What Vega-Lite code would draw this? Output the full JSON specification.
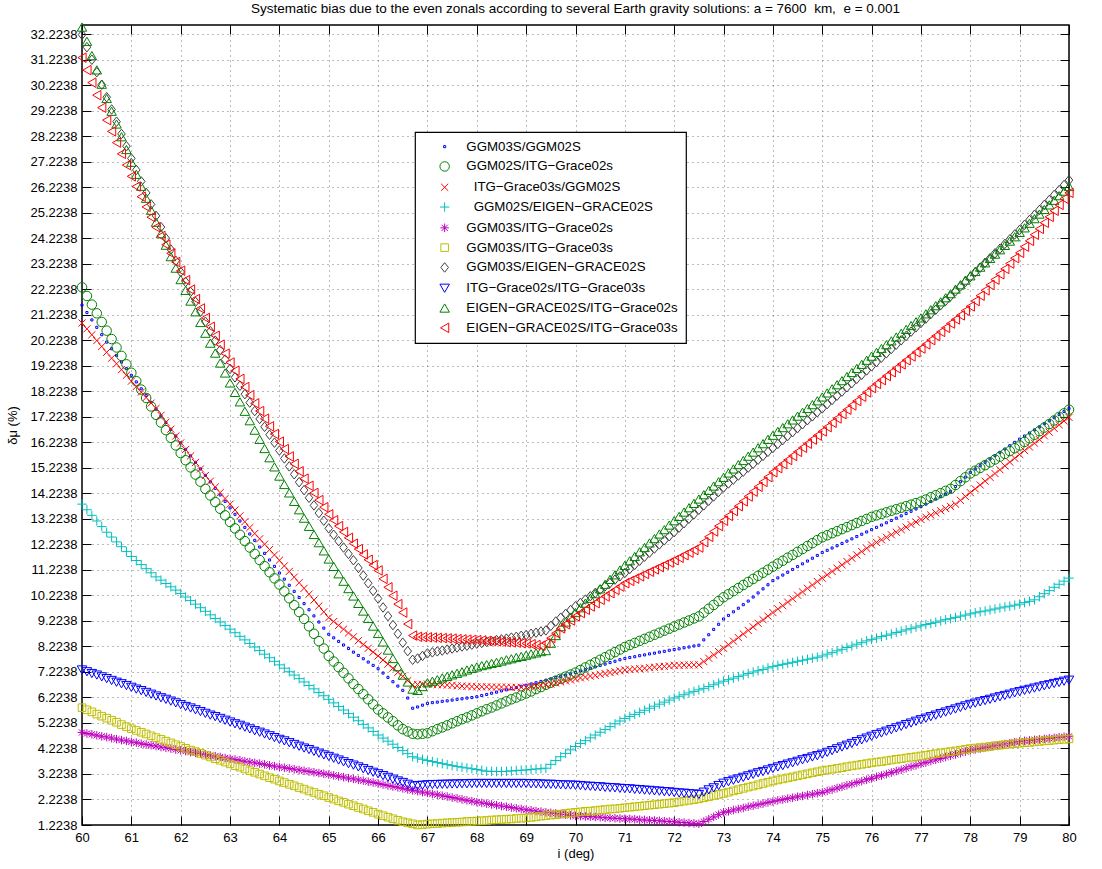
{
"$schema":"https://vega.github.io/schema/vega-lite/v6.json",
"width":987,"height":800,
"autosize":{"type":"none"},
"padding":{"left":82,"top":25,"right":33,"bottom":44},
"background":"white",
"title":{"text":"Systematic bias due to the even zonals according to several Earth gravity solutions: a = 7600\u00a0 km,\u00a0 e = 0.001","font":"Liberation Sans","fontSize":13.5,"fontWeight":"normal","color":"black","offset":5},
"config":{"font":"Liberation Sans","view":{"stroke":"#000000","strokeWidth":1.5},"legend":{"strokeWidth":1.2}},
"layer":[
{"data":{"values":[
{"x":60,"a":21.60,"b":22.30,"c":20.90,"d":13.80,"e":4.85,"f":5.82,"g":32.20,"h":7.30,"p":32.50,"q":31.30},
{"x":60.1,"a":21.31,"b":21.96,"c":20.67,"d":13.58,"e":4.81,"f":5.74,"g":31.71,"h":7.23,"p":31.94,"q":30.81},
{"x":60.2,"a":21.02,"b":21.62,"c":20.44,"d":13.36,"e":4.78,"f":5.66,"g":31.22,"h":7.16,"p":31.38,"q":30.32},
{"x":60.3,"a":20.73,"b":21.28,"c":20.21,"d":13.14,"e":4.74,"f":5.57,"g":30.73,"h":7.10,"p":30.82,"q":29.83},
{"x":60.4,"a":20.44,"b":20.94,"c":19.98,"d":12.92,"e":4.70,"f":5.49,"g":30.24,"h":7.03,"p":30.26,"q":29.34},
{"x":60.5,"a":20.15,"b":20.60,"c":19.75,"d":12.70,"e":4.67,"f":5.41,"g":29.75,"h":6.96,"p":29.70,"q":28.85},
{"x":60.6,"a":19.89,"b":20.27,"c":19.52,"d":12.51,"e":4.63,"f":5.33,"g":29.27,"h":6.89,"p":29.20,"q":28.41},
{"x":60.7,"a":19.63,"b":19.94,"c":19.30,"d":12.32,"e":4.59,"f":5.25,"g":28.79,"h":6.82,"p":28.70,"q":27.97},
{"x":60.8,"a":19.37,"b":19.61,"c":19.07,"d":12.13,"e":4.55,"f":5.16,"g":28.31,"h":6.76,"p":28.20,"q":27.53},
{"x":60.9,"a":19.11,"b":19.28,"c":18.85,"d":11.94,"e":4.52,"f":5.08,"g":27.83,"h":6.69,"p":27.70,"q":27.09},
{"x":61,"a":18.85,"b":18.95,"c":18.62,"d":11.75,"e":4.48,"f":5.00,"g":27.35,"h":6.62,"p":27.20,"q":26.65},
{"x":61.1,"a":18.59,"b":18.62,"c":18.41,"d":11.59,"e":4.45,"f":4.93,"g":26.90,"h":6.55,"p":26.73,"q":26.25},
{"x":61.2,"a":18.32,"b":18.29,"c":18.19,"d":11.43,"e":4.41,"f":4.86,"g":26.45,"h":6.49,"p":26.26,"q":25.85},
{"x":61.3,"a":18.06,"b":17.96,"c":17.98,"d":11.27,"e":4.38,"f":4.79,"g":26.00,"h":6.42,"p":25.79,"q":25.45},
{"x":61.4,"a":17.79,"b":17.63,"c":17.76,"d":11.11,"e":4.35,"f":4.72,"g":25.55,"h":6.35,"p":25.32,"q":25.05},
{"x":61.5,"a":17.53,"b":17.30,"c":17.55,"d":10.95,"e":4.32,"f":4.65,"g":25.10,"h":6.28,"p":24.85,"q":24.65},
{"x":61.6,"a":17.26,"b":17.00,"c":17.28,"d":10.82,"e":4.28,"f":4.58,"g":24.66,"h":6.21,"p":24.40,"q":24.31},
{"x":61.7,"a":17.00,"b":16.70,"c":17.01,"d":10.69,"e":4.25,"f":4.51,"g":24.22,"h":6.15,"p":23.95,"q":23.97},
{"x":61.8,"a":16.73,"b":16.40,"c":16.74,"d":10.56,"e":4.22,"f":4.44,"g":23.78,"h":6.08,"p":23.50,"q":23.63},
{"x":61.9,"a":16.47,"b":16.10,"c":16.47,"d":10.43,"e":4.18,"f":4.37,"g":23.34,"h":6.01,"p":23.05,"q":23.29},
{"x":62,"a":16.20,"b":15.80,"c":16.20,"d":10.30,"e":4.15,"f":4.30,"g":22.90,"h":5.94,"p":22.60,"q":22.95},
{"x":62.1,"a":15.95,"b":15.52,"c":15.94,"d":10.16,"e":4.12,"f":4.23,"g":22.51,"h":5.87,"p":22.18,"q":22.58},
{"x":62.2,"a":15.69,"b":15.24,"c":15.69,"d":10.02,"e":4.08,"f":4.16,"g":22.12,"h":5.81,"p":21.76,"q":22.21},
{"x":62.3,"a":15.44,"b":14.96,"c":15.43,"d":9.88,"e":4.05,"f":4.10,"g":21.73,"h":5.74,"p":21.34,"q":21.84},
{"x":62.4,"a":15.18,"b":14.68,"c":15.18,"d":9.74,"e":4.02,"f":4.03,"g":21.34,"h":5.67,"p":20.92,"q":21.47},
{"x":62.5,"a":14.93,"b":14.40,"c":14.92,"d":9.60,"e":3.99,"f":3.96,"g":20.95,"h":5.60,"p":20.50,"q":21.10},
{"x":62.6,"a":14.67,"b":14.14,"c":14.70,"d":9.46,"e":3.95,"f":3.89,"g":20.58,"h":5.53,"p":20.11,"q":20.75},
{"x":62.7,"a":14.42,"b":13.88,"c":14.47,"d":9.32,"e":3.92,"f":3.82,"g":20.21,"h":5.47,"p":19.72,"q":20.40},
{"x":62.8,"a":14.16,"b":13.62,"c":14.25,"d":9.18,"e":3.89,"f":3.76,"g":19.84,"h":5.40,"p":19.33,"q":20.05},
{"x":62.9,"a":13.91,"b":13.36,"c":14.02,"d":9.04,"e":3.85,"f":3.69,"g":19.47,"h":5.33,"p":18.94,"q":19.70},
{"x":63,"a":13.65,"b":13.10,"c":13.80,"d":8.90,"e":3.82,"f":3.62,"g":19.10,"h":5.26,"p":18.55,"q":19.35},
{"x":63.1,"a":13.40,"b":12.85,"c":13.57,"d":8.76,"e":3.79,"f":3.55,"g":18.77,"h":5.19,"p":18.18,"q":19.03},
{"x":63.2,"a":13.14,"b":12.60,"c":13.34,"d":8.62,"e":3.76,"f":3.49,"g":18.44,"h":5.13,"p":17.81,"q":18.71},
{"x":63.3,"a":12.89,"b":12.35,"c":13.11,"d":8.48,"e":3.72,"f":3.42,"g":18.11,"h":5.06,"p":17.44,"q":18.39},
{"x":63.4,"a":12.63,"b":12.10,"c":12.88,"d":8.34,"e":3.69,"f":3.35,"g":17.78,"h":4.99,"p":17.07,"q":18.07},
{"x":63.5,"a":12.38,"b":11.85,"c":12.65,"d":8.20,"e":3.66,"f":3.29,"g":17.45,"h":4.92,"p":16.70,"q":17.75},
{"x":63.6,"a":12.12,"b":11.61,"c":12.44,"d":8.06,"e":3.63,"f":3.22,"g":17.14,"h":4.86,"p":16.34,"q":17.45},
{"x":63.7,"a":11.87,"b":11.37,"c":12.23,"d":7.92,"e":3.60,"f":3.15,"g":16.83,"h":4.79,"p":15.98,"q":17.15},
{"x":63.8,"a":11.61,"b":11.13,"c":12.02,"d":7.78,"e":3.56,"f":3.08,"g":16.52,"h":4.72,"p":15.62,"q":16.85},
{"x":63.9,"a":11.36,"b":10.89,"c":11.81,"d":7.64,"e":3.53,"f":3.02,"g":16.21,"h":4.65,"p":15.26,"q":16.55},
{"x":64,"a":11.10,"b":10.65,"c":11.60,"d":7.50,"e":3.50,"f":2.95,"g":15.90,"h":4.58,"p":14.90,"q":16.25},
{"x":64.1,"a":10.86,"b":10.38,"c":11.38,"d":7.37,"e":3.47,"f":2.89,"g":15.59,"h":4.52,"p":14.57,"q":15.96},
{"x":64.2,"a":10.62,"b":10.11,"c":11.16,"d":7.23,"e":3.44,"f":2.82,"g":15.28,"h":4.45,"p":14.24,"q":15.67},
{"x":64.3,"a":10.38,"b":9.84,"c":10.94,"d":7.10,"e":3.41,"f":2.76,"g":14.97,"h":4.38,"p":13.91,"q":15.38},
{"x":64.4,"a":10.14,"b":9.57,"c":10.72,"d":6.96,"e":3.38,"f":2.69,"g":14.66,"h":4.31,"p":13.58,"q":15.09},
{"x":64.5,"a":9.90,"b":9.30,"c":10.50,"d":6.83,"e":3.35,"f":2.63,"g":14.35,"h":4.24,"p":13.25,"q":14.80},
{"x":64.6,"a":9.66,"b":9.01,"c":10.27,"d":6.69,"e":3.32,"f":2.56,"g":14.05,"h":4.18,"p":12.93,"q":14.52},
{"x":64.7,"a":9.42,"b":8.72,"c":10.04,"d":6.56,"e":3.29,"f":2.50,"g":13.75,"h":4.11,"p":12.61,"q":14.24},
{"x":64.8,"a":9.18,"b":8.43,"c":9.81,"d":6.42,"e":3.26,"f":2.43,"g":13.45,"h":4.04,"p":12.29,"q":13.96},
{"x":64.9,"a":8.94,"b":8.14,"c":9.58,"d":6.29,"e":3.23,"f":2.37,"g":13.15,"h":3.97,"p":11.97,"q":13.68},
{"x":65,"a":8.70,"b":7.85,"c":9.35,"d":6.15,"e":3.20,"f":2.30,"g":12.85,"h":3.91,"p":11.65,"q":13.40},
{"x":65.1,"a":8.56,"b":7.63,"c":9.20,"d":6.01,"e":3.17,"f":2.24,"g":12.60,"h":3.84,"p":11.36,"q":13.17},
{"x":65.2,"a":8.42,"b":7.41,"c":9.05,"d":5.87,"e":3.13,"f":2.17,"g":12.35,"h":3.77,"p":11.07,"q":12.94},
{"x":65.3,"a":8.28,"b":7.19,"c":8.90,"d":5.73,"e":3.10,"f":2.11,"g":12.10,"h":3.70,"p":10.78,"q":12.71},
{"x":65.4,"a":8.14,"b":6.97,"c":8.75,"d":5.59,"e":3.06,"f":2.04,"g":11.85,"h":3.63,"p":10.49,"q":12.48},
{"x":65.5,"a":8.00,"b":6.75,"c":8.60,"d":5.45,"e":3.03,"f":1.98,"g":11.60,"h":3.57,"p":10.20,"q":12.25},
{"x":65.6,"a":7.87,"b":6.55,"c":8.45,"d":5.31,"e":2.99,"f":1.91,"g":11.30,"h":3.50,"p":9.91,"q":12.04},
{"x":65.7,"a":7.74,"b":6.35,"c":8.30,"d":5.17,"e":2.96,"f":1.85,"g":11.00,"h":3.43,"p":9.61,"q":11.83},
{"x":65.8,"a":7.61,"b":6.15,"c":8.15,"d":5.03,"e":2.92,"f":1.78,"g":10.70,"h":3.36,"p":9.32,"q":11.62},
{"x":65.9,"a":7.48,"b":5.95,"c":8.00,"d":4.89,"e":2.89,"f":1.72,"g":10.40,"h":3.29,"p":9.02,"q":11.41},
{"x":66,"a":7.35,"b":5.75,"c":7.85,"d":4.75,"e":2.85,"f":1.65,"g":10.10,"h":3.23,"p":8.73,"q":11.20},
{"x":66.1,"a":7.18,"b":5.60,"c":7.69,"d":4.63,"e":2.81,"f":1.59,"g":9.75,"h":3.16,"p":8.40,"q":10.87},
{"x":66.2,"a":7.01,"b":5.44,"c":7.53,"d":4.51,"e":2.77,"f":1.53,"g":9.41,"h":3.09,"p":8.08,"q":10.54},
{"x":66.3,"a":6.84,"b":5.29,"c":7.37,"d":4.39,"e":2.73,"f":1.47,"g":9.06,"h":3.02,"p":7.75,"q":10.21},
{"x":66.4,"a":6.67,"b":5.13,"c":7.21,"d":4.26,"e":2.70,"f":1.41,"g":8.72,"h":2.95,"p":7.43,"q":9.88},
{"x":66.5,"a":6.50,"b":4.98,"c":7.05,"d":4.14,"e":2.66,"f":1.35,"g":8.37,"h":2.89,"p":7.10,"q":9.55},
{"x":66.6,"a":6.20,"b":4.89,"c":6.88,"d":4.02,"e":2.62,"f":1.31,"g":8.04,"h":2.82,"p":6.83,"q":9.10},
{"x":66.7,"a":5.80,"b":4.80,"c":6.72,"d":3.90,"e":2.58,"f":1.27,"g":7.70,"h":2.75,"p":6.55,"q":8.65},
{"x":66.8,"a":5.85,"b":4.78,"c":6.73,"d":3.85,"e":2.55,"f":1.2238,"g":7.75,"h":2.77,"p":6.50,"q":8.60},
{"x":66.9,"a":5.92,"b":4.80,"c":6.74,"d":3.80,"e":2.51,"f":1.24,"g":7.85,"h":2.78,"p":6.65,"q":8.59},
{"x":67,"a":5.99,"b":4.82,"c":6.75,"d":3.75,"e":2.48,"f":1.26,"g":7.95,"h":2.80,"p":6.80,"q":8.58},
{"x":67.1,"a":6.02,"b":4.90,"c":6.74,"d":3.71,"e":2.44,"f":1.27,"g":7.99,"h":2.81,"p":6.86,"q":8.57},
{"x":67.2,"a":6.04,"b":4.98,"c":6.73,"d":3.67,"e":2.41,"f":1.28,"g":8.03,"h":2.81,"p":6.92,"q":8.56},
{"x":67.3,"a":6.07,"b":5.05,"c":6.72,"d":3.63,"e":2.37,"f":1.30,"g":8.06,"h":2.82,"p":6.99,"q":8.55},
{"x":67.4,"a":6.09,"b":5.13,"c":6.71,"d":3.59,"e":2.34,"f":1.31,"g":8.10,"h":2.82,"p":7.05,"q":8.54},
{"x":67.5,"a":6.12,"b":5.21,"c":6.70,"d":3.55,"e":2.30,"f":1.32,"g":8.14,"h":2.83,"p":7.11,"q":8.53},
{"x":67.6,"a":6.15,"b":5.29,"c":6.68,"d":3.52,"e":2.27,"f":1.33,"g":8.18,"h":2.83,"p":7.17,"q":8.51},
{"x":67.7,"a":6.17,"b":5.37,"c":6.67,"d":3.49,"e":2.23,"f":1.34,"g":8.22,"h":2.84,"p":7.23,"q":8.50},
{"x":67.8,"a":6.20,"b":5.44,"c":6.66,"d":3.46,"e":2.19,"f":1.36,"g":8.25,"h":2.84,"p":7.30,"q":8.49},
{"x":67.9,"a":6.22,"b":5.52,"c":6.65,"d":3.43,"e":2.16,"f":1.37,"g":8.29,"h":2.85,"p":7.36,"q":8.48},
{"x":68,"a":6.25,"b":5.60,"c":6.64,"d":3.40,"e":2.12,"f":1.38,"g":8.33,"h":2.85,"p":7.42,"q":8.47},
{"x":68.1,"a":6.30,"b":5.68,"c":6.64,"d":3.37,"e":2.09,"f":1.39,"g":8.36,"h":2.85,"p":7.47,"q":8.46},
{"x":68.2,"a":6.34,"b":5.76,"c":6.64,"d":3.33,"e":2.06,"f":1.40,"g":8.40,"h":2.85,"p":7.51,"q":8.44},
{"x":68.3,"a":6.39,"b":5.83,"c":6.63,"d":3.33,"e":2.03,"f":1.42,"g":8.43,"h":2.85,"p":7.56,"q":8.43},
{"x":68.4,"a":6.43,"b":5.91,"c":6.63,"d":3.32,"e":2.00,"f":1.43,"g":8.47,"h":2.85,"p":7.60,"q":8.42},
{"x":68.5,"a":6.48,"b":5.99,"c":6.63,"d":3.32,"e":1.97,"f":1.44,"g":8.50,"h":2.85,"p":7.65,"q":8.41},
{"x":68.6,"a":6.52,"b":6.07,"c":6.63,"d":3.33,"e":1.94,"f":1.45,"g":8.53,"h":2.85,"p":7.70,"q":8.39},
{"x":68.7,"a":6.57,"b":6.15,"c":6.62,"d":3.34,"e":1.91,"f":1.46,"g":8.57,"h":2.85,"p":7.74,"q":8.38},
{"x":68.8,"a":6.61,"b":6.22,"c":6.62,"d":3.36,"e":1.88,"f":1.48,"g":8.60,"h":2.85,"p":7.79,"q":8.37},
{"x":68.9,"a":6.66,"b":6.30,"c":6.62,"d":3.37,"e":1.85,"f":1.49,"g":8.64,"h":2.85,"p":7.83,"q":8.35},
{"x":69,"a":6.70,"b":6.38,"c":6.62,"d":3.38,"e":1.82,"f":1.50,"g":8.67,"h":2.85,"p":7.88,"q":8.34},
{"x":69.1,"a":6.75,"b":6.46,"c":6.65,"d":3.40,"e":1.80,"f":1.52,"g":8.72,"h":2.84,"p":7.93,"q":8.31},
{"x":69.2,"a":6.80,"b":6.55,"c":6.67,"d":3.42,"e":1.77,"f":1.54,"g":8.76,"h":2.84,"p":7.97,"q":8.28},
{"x":69.3,"a":6.85,"b":6.63,"c":6.70,"d":3.43,"e":1.75,"f":1.57,"g":8.81,"h":2.83,"p":8.02,"q":8.25},
{"x":69.4,"a":6.90,"b":6.72,"c":6.72,"d":3.45,"e":1.72,"f":1.59,"g":8.85,"h":2.82,"p":8.06,"q":8.35},
{"x":69.5,"a":6.95,"b":6.80,"c":6.75,"d":3.60,"e":1.70,"f":1.61,"g":9.03,"h":2.82,"p":8.35,"q":8.55},
{"x":69.6,"a":7.00,"b":6.88,"c":6.79,"d":3.75,"e":1.68,"f":1.63,"g":9.20,"h":2.81,"p":8.65,"q":8.74},
{"x":69.7,"a":7.05,"b":6.96,"c":6.83,"d":3.90,"e":1.65,"f":1.65,"g":9.35,"h":2.80,"p":9.00,"q":8.93},
{"x":69.8,"a":7.10,"b":7.04,"c":6.87,"d":4.03,"e":1.63,"f":1.68,"g":9.50,"h":2.79,"p":9.18,"q":9.09},
{"x":69.9,"a":7.15,"b":7.12,"c":6.91,"d":4.17,"e":1.60,"f":1.70,"g":9.65,"h":2.79,"p":9.37,"q":9.24},
{"x":70,"a":7.20,"b":7.20,"c":6.95,"d":4.30,"e":1.58,"f":1.72,"g":9.80,"h":2.78,"p":9.55,"q":9.40},
{"x":70.1,"a":7.26,"b":7.30,"c":6.99,"d":4.42,"e":1.57,"f":1.74,"g":9.93,"h":2.77,"p":9.74,"q":9.53},
{"x":70.2,"a":7.31,"b":7.40,"c":7.02,"d":4.53,"e":1.56,"f":1.76,"g":10.06,"h":2.75,"p":9.92,"q":9.66},
{"x":70.3,"a":7.37,"b":7.50,"c":7.06,"d":4.64,"e":1.55,"f":1.77,"g":10.19,"h":2.74,"p":10.11,"q":9.79},
{"x":70.4,"a":7.42,"b":7.60,"c":7.09,"d":4.75,"e":1.54,"f":1.79,"g":10.32,"h":2.73,"p":10.29,"q":9.92},
{"x":70.5,"a":7.48,"b":7.70,"c":7.13,"d":4.86,"e":1.53,"f":1.81,"g":10.45,"h":2.72,"p":10.48,"q":10.05},
{"x":70.6,"a":7.53,"b":7.80,"c":7.16,"d":4.97,"e":1.51,"f":1.83,"g":10.58,"h":2.70,"p":10.66,"q":10.18},
{"x":70.7,"a":7.59,"b":7.90,"c":7.20,"d":5.08,"e":1.50,"f":1.85,"g":10.71,"h":2.69,"p":10.85,"q":10.31},
{"x":70.8,"a":7.64,"b":8.00,"c":7.23,"d":5.19,"e":1.49,"f":1.86,"g":10.84,"h":2.68,"p":11.03,"q":10.44},
{"x":70.9,"a":7.70,"b":8.10,"c":7.27,"d":5.30,"e":1.48,"f":1.88,"g":10.97,"h":2.66,"p":11.22,"q":10.57},
{"x":71,"a":7.75,"b":8.20,"c":7.30,"d":5.40,"e":1.47,"f":1.90,"g":11.10,"h":2.65,"p":11.40,"q":10.70},
{"x":71.1,"a":7.79,"b":8.28,"c":7.32,"d":5.48,"e":1.46,"f":1.92,"g":11.26,"h":2.64,"p":11.58,"q":10.79},
{"x":71.2,"a":7.82,"b":8.36,"c":7.34,"d":5.56,"e":1.45,"f":1.94,"g":11.42,"h":2.62,"p":11.75,"q":10.88},
{"x":71.3,"a":7.86,"b":8.44,"c":7.35,"d":5.64,"e":1.43,"f":1.96,"g":11.58,"h":2.61,"p":11.93,"q":10.97},
{"x":71.4,"a":7.89,"b":8.52,"c":7.37,"d":5.72,"e":1.42,"f":1.98,"g":11.74,"h":2.59,"p":12.10,"q":11.06},
{"x":71.5,"a":7.93,"b":8.60,"c":7.39,"d":5.80,"e":1.41,"f":2.00,"g":11.90,"h":2.58,"p":12.28,"q":11.15},
{"x":71.6,"a":7.96,"b":8.68,"c":7.41,"d":5.88,"e":1.40,"f":2.02,"g":12.06,"h":2.56,"p":12.45,"q":11.24},
{"x":71.7,"a":8.00,"b":8.76,"c":7.43,"d":5.96,"e":1.39,"f":2.04,"g":12.22,"h":2.55,"p":12.63,"q":11.33},
{"x":71.8,"a":8.03,"b":8.84,"c":7.44,"d":6.04,"e":1.37,"f":2.06,"g":12.38,"h":2.53,"p":12.80,"q":11.42},
{"x":71.9,"a":8.07,"b":8.92,"c":7.46,"d":6.12,"e":1.36,"f":2.08,"g":12.54,"h":2.52,"p":12.98,"q":11.51},
{"x":72,"a":8.10,"b":9.00,"c":7.48,"d":6.20,"e":1.35,"f":2.10,"g":12.70,"h":2.50,"p":13.15,"q":11.60},
{"x":72.1,"a":8.13,"b":9.08,"c":7.48,"d":6.27,"e":1.33,"f":2.13,"g":12.88,"h":2.48,"p":13.32,"q":11.70},
{"x":72.2,"a":8.17,"b":9.16,"c":7.49,"d":6.33,"e":1.32,"f":2.16,"g":13.05,"h":2.47,"p":13.49,"q":11.80},
{"x":72.3,"a":8.20,"b":9.24,"c":7.49,"d":6.40,"e":1.30,"f":2.19,"g":13.23,"h":2.45,"p":13.66,"q":11.90},
{"x":72.4,"a":8.24,"b":9.32,"c":7.50,"d":6.46,"e":1.29,"f":2.22,"g":13.40,"h":2.44,"p":13.83,"q":12.00},
{"x":72.5,"a":8.27,"b":9.40,"c":7.50,"d":6.52,"e":1.27,"f":2.25,"g":13.58,"h":2.42,"p":14.00,"q":12.10},
{"x":72.6,"a":8.48,"b":9.55,"c":7.63,"d":6.58,"e":1.36,"f":2.29,"g":13.75,"h":2.51,"p":14.17,"q":12.31},
{"x":72.7,"a":8.68,"b":9.70,"c":7.76,"d":6.65,"e":1.45,"f":2.33,"g":13.93,"h":2.60,"p":14.34,"q":12.52},
{"x":72.8,"a":8.89,"b":9.85,"c":7.89,"d":6.72,"e":1.54,"f":2.38,"g":14.10,"h":2.68,"p":14.51,"q":12.73},
{"x":72.9,"a":9.09,"b":10.00,"c":8.02,"d":6.79,"e":1.63,"f":2.42,"g":14.28,"h":2.77,"p":14.68,"q":12.94},
{"x":73,"a":9.30,"b":10.15,"c":8.15,"d":6.86,"e":1.72,"f":2.46,"g":14.45,"h":2.86,"p":14.85,"q":13.15},
{"x":73.1,"a":9.44,"b":10.27,"c":8.29,"d":6.92,"e":1.76,"f":2.51,"g":14.61,"h":2.92,"p":15.02,"q":13.34},
{"x":73.2,"a":9.58,"b":10.39,"c":8.43,"d":6.98,"e":1.81,"f":2.56,"g":14.76,"h":2.98,"p":15.18,"q":13.53},
{"x":73.3,"a":9.72,"b":10.51,"c":8.57,"d":7.04,"e":1.85,"f":2.61,"g":14.92,"h":3.03,"p":15.35,"q":13.72},
{"x":73.4,"a":9.86,"b":10.63,"c":8.71,"d":7.10,"e":1.89,"f":2.66,"g":15.07,"h":3.09,"p":15.51,"q":13.91},
{"x":73.5,"a":10.00,"b":10.75,"c":8.85,"d":7.16,"e":1.94,"f":2.71,"g":15.23,"h":3.15,"p":15.68,"q":14.10},
{"x":73.6,"a":10.16,"b":10.87,"c":8.99,"d":7.22,"e":1.98,"f":2.75,"g":15.38,"h":3.21,"p":15.84,"q":14.29},
{"x":73.7,"a":10.32,"b":10.99,"c":9.13,"d":7.27,"e":2.02,"f":2.80,"g":15.54,"h":3.27,"p":16.01,"q":14.48},
{"x":73.8,"a":10.48,"b":11.11,"c":9.27,"d":7.32,"e":2.06,"f":2.85,"g":15.69,"h":3.32,"p":16.17,"q":14.67},
{"x":73.9,"a":10.64,"b":11.23,"c":9.41,"d":7.38,"e":2.11,"f":2.90,"g":15.85,"h":3.38,"p":16.34,"q":14.86},
{"x":74,"a":10.80,"b":11.35,"c":9.55,"d":7.43,"e":2.15,"f":2.95,"g":16.00,"h":3.44,"p":16.50,"q":15.05},
{"x":74.1,"a":10.91,"b":11.47,"c":9.69,"d":7.48,"e":2.19,"f":2.99,"g":16.16,"h":3.50,"p":16.65,"q":15.21},
{"x":74.2,"a":11.02,"b":11.58,"c":9.82,"d":7.52,"e":2.22,"f":3.03,"g":16.31,"h":3.55,"p":16.80,"q":15.37},
{"x":74.3,"a":11.13,"b":11.70,"c":9.96,"d":7.56,"e":2.26,"f":3.07,"g":16.47,"h":3.61,"p":16.95,"q":15.53},
{"x":74.4,"a":11.24,"b":11.81,"c":10.09,"d":7.60,"e":2.29,"f":3.11,"g":16.62,"h":3.66,"p":17.10,"q":15.69},
{"x":74.5,"a":11.35,"b":11.93,"c":10.23,"d":7.64,"e":2.33,"f":3.15,"g":16.78,"h":3.72,"p":17.25,"q":15.85},
{"x":74.6,"a":11.46,"b":12.04,"c":10.36,"d":7.68,"e":2.36,"f":3.19,"g":16.93,"h":3.78,"p":17.40,"q":16.01},
{"x":74.7,"a":11.57,"b":12.16,"c":10.50,"d":7.72,"e":2.40,"f":3.23,"g":17.09,"h":3.83,"p":17.55,"q":16.17},
{"x":74.8,"a":11.68,"b":12.27,"c":10.63,"d":7.76,"e":2.43,"f":3.27,"g":17.24,"h":3.89,"p":17.70,"q":16.33},
{"x":74.9,"a":11.79,"b":12.39,"c":10.77,"d":7.80,"e":2.47,"f":3.31,"g":17.40,"h":3.94,"p":17.85,"q":16.49},
{"x":75,"a":11.90,"b":12.50,"c":10.90,"d":7.85,"e":2.50,"f":3.35,"g":17.55,"h":4.00,"p":18.00,"q":16.65},
{"x":75.1,"a":11.99,"b":12.58,"c":11.03,"d":7.92,"e":2.56,"f":3.38,"g":17.72,"h":4.07,"p":18.16,"q":16.82},
{"x":75.2,"a":12.08,"b":12.66,"c":11.16,"d":7.98,"e":2.61,"f":3.41,"g":17.88,"h":4.14,"p":18.32,"q":16.99},
{"x":75.3,"a":12.17,"b":12.74,"c":11.29,"d":8.05,"e":2.67,"f":3.44,"g":18.05,"h":4.21,"p":18.48,"q":17.16},
{"x":75.4,"a":12.26,"b":12.82,"c":11.42,"d":8.11,"e":2.72,"f":3.47,"g":18.21,"h":4.28,"p":18.64,"q":17.33},
{"x":75.5,"a":12.35,"b":12.90,"c":11.55,"d":8.18,"e":2.78,"f":3.51,"g":18.38,"h":4.35,"p":18.80,"q":17.50},
{"x":75.6,"a":12.44,"b":12.98,"c":11.68,"d":8.24,"e":2.83,"f":3.54,"g":18.54,"h":4.42,"p":18.96,"q":17.67},
{"x":75.7,"a":12.53,"b":13.06,"c":11.81,"d":8.31,"e":2.89,"f":3.57,"g":18.71,"h":4.49,"p":19.12,"q":17.84},
{"x":75.8,"a":12.62,"b":13.14,"c":11.94,"d":8.37,"e":2.94,"f":3.60,"g":18.87,"h":4.56,"p":19.28,"q":18.01},
{"x":75.9,"a":12.71,"b":13.22,"c":12.07,"d":8.44,"e":3.00,"f":3.63,"g":19.04,"h":4.63,"p":19.44,"q":18.18},
{"x":76,"a":12.80,"b":13.30,"c":12.20,"d":8.50,"e":3.05,"f":3.66,"g":19.20,"h":4.70,"p":19.60,"q":18.35},
{"x":76.1,"a":12.89,"b":13.36,"c":12.30,"d":8.55,"e":3.11,"f":3.69,"g":19.37,"h":4.77,"p":19.75,"q":18.51},
{"x":76.2,"a":12.98,"b":13.42,"c":12.40,"d":8.61,"e":3.16,"f":3.71,"g":19.54,"h":4.83,"p":19.90,"q":18.66},
{"x":76.3,"a":13.07,"b":13.48,"c":12.50,"d":8.66,"e":3.22,"f":3.74,"g":19.71,"h":4.90,"p":20.05,"q":18.82},
{"x":76.4,"a":13.16,"b":13.54,"c":12.60,"d":8.71,"e":3.28,"f":3.77,"g":19.88,"h":4.96,"p":20.20,"q":18.97},
{"x":76.5,"a":13.25,"b":13.60,"c":12.70,"d":8.77,"e":3.34,"f":3.80,"g":20.05,"h":5.03,"p":20.35,"q":19.13},
{"x":76.6,"a":13.34,"b":13.66,"c":12.80,"d":8.82,"e":3.39,"f":3.82,"g":20.22,"h":5.09,"p":20.50,"q":19.28},
{"x":76.7,"a":13.43,"b":13.72,"c":12.90,"d":8.87,"e":3.45,"f":3.85,"g":20.39,"h":5.16,"p":20.65,"q":19.44},
{"x":76.8,"a":13.52,"b":13.78,"c":13.00,"d":8.92,"e":3.51,"f":3.88,"g":20.56,"h":5.22,"p":20.80,"q":19.59},
{"x":76.9,"a":13.61,"b":13.84,"c":13.10,"d":8.98,"e":3.56,"f":3.90,"g":20.73,"h":5.29,"p":20.95,"q":19.75},
{"x":77,"a":13.70,"b":13.90,"c":13.20,"d":9.03,"e":3.62,"f":3.93,"g":20.90,"h":5.35,"p":21.10,"q":19.90},
{"x":77.1,"a":13.80,"b":13.98,"c":13.29,"d":9.08,"e":3.67,"f":3.96,"g":21.07,"h":5.41,"p":21.26,"q":20.06},
{"x":77.2,"a":13.90,"b":14.07,"c":13.37,"d":9.12,"e":3.73,"f":3.99,"g":21.25,"h":5.47,"p":21.42,"q":20.23},
{"x":77.3,"a":14.00,"b":14.15,"c":13.46,"d":9.17,"e":3.78,"f":4.02,"g":21.42,"h":5.53,"p":21.58,"q":20.39},
{"x":77.4,"a":14.10,"b":14.23,"c":13.54,"d":9.22,"e":3.83,"f":4.05,"g":21.60,"h":5.59,"p":21.73,"q":20.55},
{"x":77.5,"a":14.20,"b":14.32,"c":13.63,"d":9.27,"e":3.89,"f":4.08,"g":21.77,"h":5.65,"p":21.89,"q":20.71},
{"x":77.6,"a":14.30,"b":14.40,"c":13.71,"d":9.31,"e":3.94,"f":4.10,"g":21.95,"h":5.71,"p":22.05,"q":20.88},
{"x":77.7,"a":14.49,"b":14.55,"c":13.80,"d":9.36,"e":3.99,"f":4.13,"g":22.14,"h":5.77,"p":22.23,"q":21.04},
{"x":77.8,"a":14.68,"b":14.70,"c":13.95,"d":9.41,"e":4.04,"f":4.16,"g":22.33,"h":5.83,"p":22.40,"q":21.20},
{"x":77.9,"a":14.86,"b":14.85,"c":14.10,"d":9.45,"e":4.10,"f":4.19,"g":22.51,"h":5.89,"p":22.58,"q":21.38},
{"x":78,"a":15.05,"b":15.00,"c":14.25,"d":9.50,"e":4.15,"f":4.22,"g":22.70,"h":5.95,"p":22.75,"q":21.55},
{"x":78.1,"a":15.18,"b":15.11,"c":14.40,"d":9.54,"e":4.19,"f":4.24,"g":22.89,"h":6.00,"p":22.92,"q":21.76},
{"x":78.2,"a":15.31,"b":15.22,"c":14.55,"d":9.58,"e":4.22,"f":4.26,"g":23.07,"h":6.05,"p":23.09,"q":21.97},
{"x":78.3,"a":15.44,"b":15.33,"c":14.70,"d":9.61,"e":4.26,"f":4.28,"g":23.26,"h":6.10,"p":23.26,"q":22.18},
{"x":78.4,"a":15.57,"b":15.44,"c":14.85,"d":9.65,"e":4.29,"f":4.30,"g":23.44,"h":6.15,"p":23.43,"q":22.39},
{"x":78.5,"a":15.70,"b":15.55,"c":15.00,"d":9.69,"e":4.33,"f":4.33,"g":23.63,"h":6.20,"p":23.60,"q":22.60},
{"x":78.6,"a":15.83,"b":15.66,"c":15.15,"d":9.73,"e":4.36,"f":4.35,"g":23.81,"h":6.25,"p":23.77,"q":22.81},
{"x":78.7,"a":15.96,"b":15.77,"c":15.30,"d":9.77,"e":4.40,"f":4.37,"g":24.00,"h":6.30,"p":23.94,"q":23.02},
{"x":78.8,"a":16.09,"b":15.88,"c":15.45,"d":9.80,"e":4.43,"f":4.39,"g":24.18,"h":6.35,"p":24.11,"q":23.23},
{"x":78.9,"a":16.22,"b":15.99,"c":15.60,"d":9.84,"e":4.47,"f":4.41,"g":24.37,"h":6.40,"p":24.28,"q":23.44},
{"x":79,"a":16.35,"b":16.10,"c":15.75,"d":9.88,"e":4.50,"f":4.43,"g":24.55,"h":6.45,"p":24.45,"q":23.65},
{"x":79.1,"a":16.47,"b":16.24,"c":15.90,"d":9.94,"e":4.52,"f":4.45,"g":24.75,"h":6.50,"p":24.63,"q":23.89},
{"x":79.2,"a":16.59,"b":16.38,"c":16.04,"d":9.99,"e":4.54,"f":4.46,"g":24.94,"h":6.54,"p":24.81,"q":24.12},
{"x":79.3,"a":16.71,"b":16.52,"c":16.19,"d":10.05,"e":4.56,"f":4.48,"g":25.14,"h":6.59,"p":24.99,"q":24.36},
{"x":79.4,"a":16.83,"b":16.66,"c":16.33,"d":10.17,"e":4.58,"f":4.50,"g":25.33,"h":6.63,"p":25.17,"q":24.59},
{"x":79.5,"a":16.95,"b":16.80,"c":16.48,"d":10.29,"e":4.60,"f":4.52,"g":25.53,"h":6.68,"p":25.35,"q":24.83},
{"x":79.6,"a":17.07,"b":16.94,"c":16.62,"d":10.41,"e":4.62,"f":4.53,"g":25.72,"h":6.72,"p":25.53,"q":25.06},
{"x":79.7,"a":17.19,"b":17.08,"c":16.77,"d":10.54,"e":4.64,"f":4.55,"g":25.92,"h":6.77,"p":25.71,"q":25.30},
{"x":79.8,"a":17.31,"b":17.22,"c":16.91,"d":10.66,"e":4.66,"f":4.57,"g":26.11,"h":6.81,"p":25.89,"q":25.53},
{"x":79.9,"a":17.43,"b":17.36,"c":17.06,"d":10.78,"e":4.68,"f":4.58,"g":26.31,"h":6.86,"p":26.07,"q":25.77},
{"x":80,"a":17.55,"b":17.50,"c":17.20,"d":10.90,"e":4.70,"f":4.60,"g":26.50,"h":6.90,"p":26.25,"q":26.00}
]},
"transform":[
{"fold":["a","b","c","d","e","f","g","h","p","q"],"as":["k","v"]},
{"lookup":"k","from":{"data":{"values":[
{"k":"a","name":"GGM03S/GGM02S","o":1},
{"k":"b","name":"GGM02S/ITG\u2212Grace02s","o":2},
{"k":"c","name":"\u200b\u00a0\u00a0ITG\u2212Grace03s/GGM02S","o":3},
{"k":"d","name":"\u200b\u00a0\u00a0GGM02S/EIGEN\u2212GRACE02S","o":4},
{"k":"e","name":"GGM03S/ITG\u2212Grace02s","o":5},
{"k":"f","name":"GGM03S/ITG\u2212Grace03s","o":6},
{"k":"g","name":"GGM03S/EIGEN\u2212GRACE02S","o":7},
{"k":"h","name":"ITG\u2212Grace02s/ITG\u2212Grace03s","o":8},
{"k":"p","name":"EIGEN\u2212GRACE02S/ITG\u2212Grace02s","o":9},
{"k":"q","name":"EIGEN\u2212GRACE02S/ITG\u2212Grace03s","o":10}
]},"key":"k","fields":["name","o"]}}
],
"mark":{"type":"point","filled":false,"strokeWidth":1,"size":90,"opacity":1},
"encoding":{
"x":{"field":"x","type":"quantitative","scale":{"domain":[60,80],"nice":false,"zero":false},
 "axis":{"orient":"bottom","values":[60,61,62,63,64,65,66,67,68,69,70,71,72,73,74,75,76,77,78,79,80],"format":"d","labelFont":"Liberation Sans","labelFontSize":13,"labelColor":"#000000","labelFlush":false,"labelOverlap":false,"tickColor":"#000000","tickSize":-9,"tickWidth":1,"labelPadding":15,"domain":false,"grid":true,"gridColor":"#333333","gridOpacity":0.65,"gridDash":[1,4],"gridWidth":1,"title":"i (deg)","titleFont":"Liberation Sans","titleFontSize":13,"titleFontWeight":"normal","titleColor":"#000000","titlePadding":3}},
"y":{"field":"v","type":"quantitative","scale":{"domain":[1.2238,32.58],"nice":false,"zero":false},
 "axis":{"orient":"left","values":[1.2238,2.2238,3.2238,4.2238,5.2238,6.2238,7.2238,8.2238,9.2238,10.2238,11.2238,12.2238,13.2238,14.2238,15.2238,16.2238,17.2238,18.2238,19.2238,20.2238,21.2238,22.2238,23.2238,24.2238,25.2238,26.2238,27.2238,28.2238,29.2238,30.2238,31.2238,32.2238],"format":".4f","labelFont":"Liberation Sans","labelFontSize":13,"labelColor":"#000000","labelFlush":false,"labelOverlap":false,"tickColor":"#000000","tickSize":-9,"tickWidth":1,"labelPadding":14,"domain":false,"grid":true,"gridColor":"#333333","gridOpacity":0.65,"gridDash":[1,4],"gridWidth":1,"title":"\u03b4\u03bc (%)","titleFont":"Liberation Sans","titleFontSize":13,"titleFontWeight":"normal","titleColor":"#000000","titlePadding":11}},
"color":{"field":"name","type":"nominal",
 "scale":{"domain":["GGM03S/GGM02S","GGM02S/ITG\u2212Grace02s","\u200b\u00a0\u00a0ITG\u2212Grace03s/GGM02S","\u200b\u00a0\u00a0GGM02S/EIGEN\u2212GRACE02S","GGM03S/ITG\u2212Grace02s","GGM03S/ITG\u2212Grace03s","GGM03S/EIGEN\u2212GRACE02S","ITG\u2212Grace02s/ITG\u2212Grace03s","EIGEN\u2212GRACE02S/ITG\u2212Grace02s","EIGEN\u2212GRACE02S/ITG\u2212Grace03s"],
  "range":["#0000ff","#008000","#ff0000","#00bfbf","#bf00bf","#bfbf00","#404040","#0000ff","#008000","#ff0000"]},
 "legend":{"title":null,"orient":"none","legendX":333,"legendY":107,"fillColor":"#ffffff","strokeColor":"#000000","padding":8,"symbolOffset":15,"labelOffset":15,"rowPadding":5.8,"labelFont":"Liberation Sans","labelFontSize":13.3,"labelColor":"#000000","labelLimit":0,"symbolSize":90,"symbolStrokeWidth":1}},
"shape":{"field":"name","type":"nominal",
 "scale":{"domain":["GGM03S/GGM02S","GGM02S/ITG\u2212Grace02s","\u200b\u00a0\u00a0ITG\u2212Grace03s/GGM02S","\u200b\u00a0\u00a0GGM02S/EIGEN\u2212GRACE02S","GGM03S/ITG\u2212Grace02s","GGM03S/ITG\u2212Grace03s","GGM03S/EIGEN\u2212GRACE02S","ITG\u2212Grace02s/ITG\u2212Grace03s","EIGEN\u2212GRACE02S/ITG\u2212Grace02s","EIGEN\u2212GRACE02S/ITG\u2212Grace03s"],
  "range":["M-0.22,-0.22L0.22,-0.22L0.22,0.22L-0.22,0.22Z","circle","M-0.75,-0.75L0.75,0.75M-0.75,0.75L0.75,-0.75","M-1,0L1,0M0,-1L0,1","M-0.9,0L0.9,0M0,-0.9L0,0.9M-0.65,-0.65L0.65,0.65M-0.65,0.65L0.65,-0.65","M-0.8,-0.8L0.8,-0.8L0.8,0.8L-0.8,0.8Z","M0,-1L0.8,0L0,1L-0.8,0Z","triangle-down","triangle-up","triangle-left"]}},
"order":{"field":"o","type":"quantitative"}
}},
{"data":{"values":[{"x":60,"v":1.2238}]},
"mark":{"type":"point","opacity":0},
"encoding":{
"x":{"field":"x","type":"quantitative","scale":{"domain":[60,80],"nice":false,"zero":false},
 "axis":{"orient":"top","values":[60,61,62,63,64,65,66,67,68,69,70,71,72,73,74,75,76,77,78,79,80],"labels":false,"tickColor":"#000000","tickSize":-9,"tickWidth":1,"domain":false,"grid":false,"title":null}},
"y":{"field":"v","type":"quantitative","scale":{"domain":[1.2238,32.58],"nice":false,"zero":false},
 "axis":{"orient":"right","values":[1.2238,2.2238,3.2238,4.2238,5.2238,6.2238,7.2238,8.2238,9.2238,10.2238,11.2238,12.2238,13.2238,14.2238,15.2238,16.2238,17.2238,18.2238,19.2238,20.2238,21.2238,22.2238,23.2238,24.2238,25.2238,26.2238,27.2238,28.2238,29.2238,30.2238,31.2238,32.2238],"labels":false,"tickColor":"#000000","tickSize":-9,"tickWidth":1,"domain":false,"grid":false,"title":null}}
}}
],
"resolve":{"axis":{"x":"independent","y":"independent"}}
}
